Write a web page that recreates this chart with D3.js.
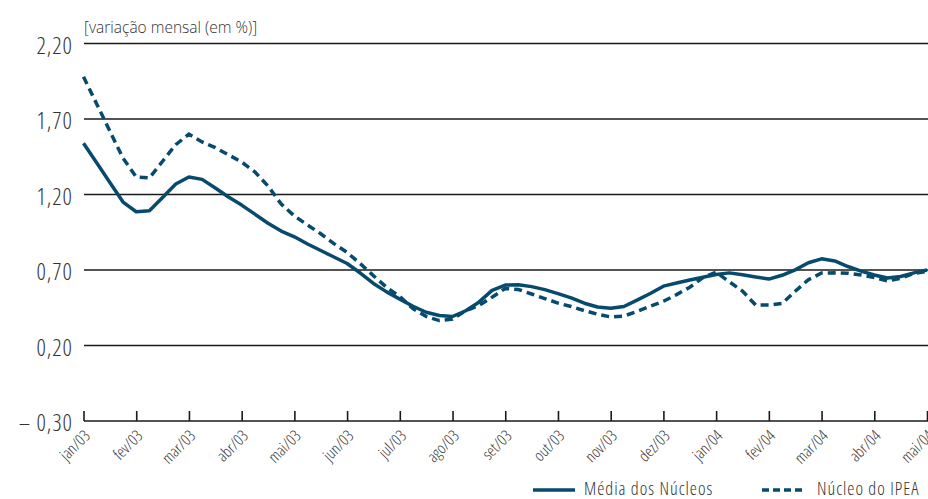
<!DOCTYPE html>
<html><head><meta charset="utf-8">
<script src="https://cdn.jsdelivr.net/npm/d3@7"></script>
<style>
html,body{margin:0;padding:0;background:#fff;}
svg text{font-family:"Open Sans","Noto Sans",sans-serif;font-weight:300;fill:#333;}
</style></head>
<body><svg id="chart" width="928" height="499"></svg>
<script>
// Month tick labels (each month split into 4 sub-periods)
const monthLabels = ["jan/03","fev/03","mar/03","abr/03","mai/03","jun/03","jul/03","ago/03","set/03","out/03","nov/03","dez/03","jan/04","fev/04","mar/04","abr/04","mai/04"];
const pointsPerMonth = 4;
// Média dos Núcleos (variação mensal, %)
const mediaNucleos = [
 1.54,1.41,1.28,1.15, 1.086,1.093,1.18,1.27,
 1.316,1.30,1.243,1.183, 1.13,1.07,1.01,0.958,
 0.92,0.872,0.829,0.786, 0.743,0.68,0.611,0.555,
 0.507,0.46,0.42,0.399, 0.392,0.43,0.487,0.565,
 0.60,0.603,0.59,0.57, 0.544,0.515,0.48,0.455,
 0.446,0.458,0.50,0.544, 0.593,0.614,0.634,0.652,
 0.67,0.681,0.668,0.654, 0.64,0.665,0.701,0.748,
 0.774,0.76,0.723,0.693, 0.667,0.647,0.657,0.681,
 0.70
];
// Núcleo do IPEA (variação mensal, %)
const nucleoIPEA = [
 1.98,1.80,1.62,1.44, 1.316,1.31,1.42,1.53,
 1.60,1.548,1.51,1.463, 1.415,1.35,1.256,1.137,
 1.058,0.998,0.94,0.875, 0.816,0.742,0.662,0.585,
 0.524,0.444,0.392,0.365, 0.375,0.43,0.465,0.52,
 0.578,0.571,0.541,0.511, 0.481,0.458,0.431,0.407,
 0.389,0.395,0.425,0.46, 0.493,0.537,0.586,0.65,
 0.685,0.622,0.56,0.468, 0.468,0.478,0.559,0.636,
 0.68,0.681,0.679,0.667, 0.65,0.627,0.645,0.677,
 0.69
];
const yTicks = [-0.30,0.20,0.70,1.20,1.70,2.20];
const yTitle = "[variação mensal (em %)]";
const seriesNames = ["Média dos Núcleos","Núcleo do IPEA"];

const svg = d3.select("#chart");
const color = "#064b6d";
const n = mediaNucleos.length;
const x = d3.scaleLinear().domain([0, n-1]).range([83.5, 927]);
const y = d3.scaleLinear().domain([-0.30, 2.20]).range([421, 43.5]);

const fmt = v => (v < 0 ? "\u2013 " : "") + d3.format(".2f")(Math.abs(v)).replace(".", ",");

// gridlines
svg.append("g").selectAll("line").data(yTicks.filter(v => v > -0.3)).join("line")
  .attr("x1", 84).attr("x2", 928)
  .attr("y1", d => y(d)).attr("y2", d => y(d))
  .attr("stroke", "#1a1a1a").attr("stroke-width", 1.4);

// y labels
svg.append("g").selectAll("text").data(yTicks).join("text")
  .attr("x", 73).attr("y", d => y(d) + 2)
  .attr("dy", "0.35em").attr("text-anchor", "end")
  .attr("font-size", 23).style("font-stretch", "75%").style("letter-spacing", "1px").text(fmt);

// y title
svg.append("text").attr("x", 84).attr("y", 33).attr("font-size", 15.5)
  .style("font-stretch", "100%").text(yTitle);

// x axis
const xMonth = d3.scaleLinear().domain([0, monthLabels.length-1]).range([x(0), x(n-1)]);
const xAxis = d3.axisBottom(xMonth)
  .tickValues(d3.range(monthLabels.length))
  .tickFormat(i => monthLabels[i])
  .tickSizeInner(-10).tickSizeOuter(0).tickPadding(0);
const gx = svg.append("g").attr("transform", "translate(0,421)").call(xAxis);
gx.select(".domain").attr("stroke", "#1a1a1a").attr("stroke-width", 1.6).attr("d", "M84,0H928");
gx.selectAll(".tick line").attr("stroke", "#1a1a1a").attr("stroke-width", 1.6);
gx.selectAll(".tick text")
  .attr("font-size", 16).attr("fill", "#333")
  .style("font-stretch", "75%")
  .attr("text-anchor", "end")
  .attr("transform", "translate(7,16) rotate(-45)")
  .attr("dy", 0).attr("y", 0).attr("x", 0);

// lines
const line = d3.line().x((d,i) => x(i)).y(d => y(d));
svg.append("path").datum(nucleoIPEA).attr("d", line)
  .attr("fill", "none").attr("stroke", color).attr("stroke-width", 3.5)
  .attr("stroke-dasharray", "8,5");
svg.append("path").datum(mediaNucleos).attr("d", line)
  .attr("fill", "none").attr("stroke", color).attr("stroke-width", 3.5)
  .attr("stroke-linejoin", "round");

// legend
const leg = [{x: 533, dash: null, name: seriesNames[0]}, {x: 762, dash: "7,4", name: seriesNames[1]}];
const lg = svg.append("g");
leg.forEach(l => {
  lg.append("line").attr("x1", l.x).attr("x2", l.x + 42).attr("y1", 490).attr("y2", 490)
    .attr("stroke", color).attr("stroke-width", 3.5).attr("stroke-dasharray", l.dash);
  lg.append("text").attr("x", l.x + 51 + (l.dash ? 4 : 0)).attr("y", 495).attr("font-size", 18)
    .style("font-stretch", "75%").style("letter-spacing", "1px").text(l.name);
});
</script></body></html>
